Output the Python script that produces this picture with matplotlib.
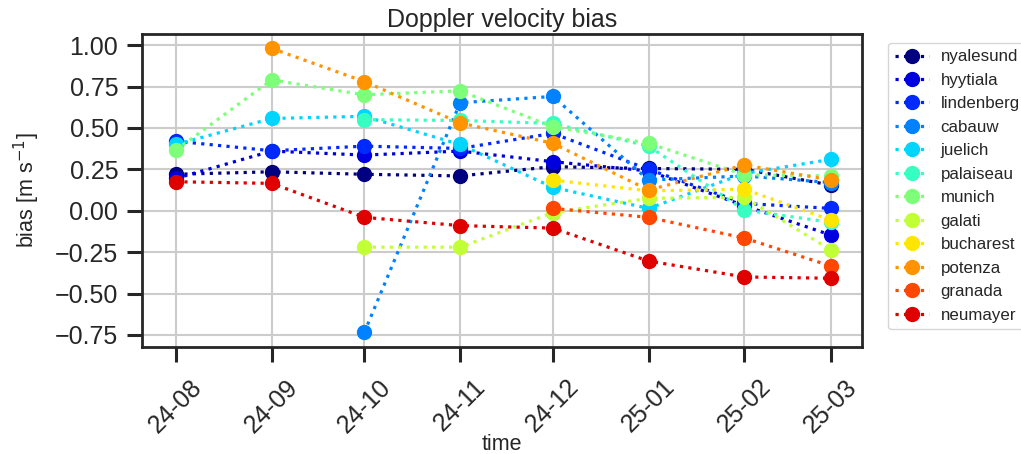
import numpy as np
import matplotlib
matplotlib.use('Agg')
import matplotlib.pyplot as plt
import matplotlib.dates as mdates

# ── data ───────────────────────────────────────────────────────────────────
months = np.array(['2024-08-01', '2024-09-01', '2024-10-01', '2024-11-01',
                   '2024-12-01', '2025-01-01', '2025-02-01', '2025-03-01'],
                  dtype='datetime64[D]')
nan = np.nan

stations = ['nyalesund', 'hyytiala', 'lindenberg', 'cabauw', 'juelich',
            'palaiseau', 'munich', 'galati', 'bucharest', 'potenza',
            'granada', 'neumayer']

nyalesund  = [0.22, 0.235, 0.22, 0.21, 0.266, 0.255, 0.25, 0.155]
hyytiala   = [0.195, 0.36, 0.336, 0.36, 0.296, 0.24, 0.03, -0.147]
lindenberg = [0.42, 0.362, 0.39, 0.376, 0.467, 0.25, 0.044, 0.014]
cabauw     = [nan, nan, -0.735, 0.652, 0.69, 0.185, 0.21, 0.17]
juelich    = [0.40, 0.557, 0.57, 0.40, 0.141, 0.014, 0.225, 0.31]
palaiseau  = [nan, nan, 0.55, 0.545, 0.527, 0.39, 0.004, -0.07]
munich     = [0.366, 0.79, 0.70, 0.724, 0.507, 0.407, 0.217, 0.21]
galati     = [nan, nan, -0.22, -0.22, -0.012, 0.075, 0.081, -0.237]
bucharest  = [nan, nan, nan, nan, 0.185, 0.12, 0.13, -0.056]
potenza    = [nan, 0.98, 0.78, 0.53, 0.407, 0.125, 0.276, 0.185]
granada    = [nan, nan, nan, nan, 0.014, -0.04, -0.165, -0.334]
neumayer   = [0.175, 0.165, -0.04, -0.09, -0.105, -0.304, -0.40, -0.408]

series = [nyalesund, hyytiala, lindenberg, cabauw, juelich, palaiseau,
          munich, galati, bucharest, potenza, granada, neumayer]

# ── style ──────────────────────────────────────────────────────────────────
plt.rcParams['font.family'] = ['Liberation Sans', 'DejaVu Sans']
plt.rcParams['text.color'] = '#262626'
plt.rcParams['axes.labelcolor'] = '#262626'
plt.rcParams['xtick.color'] = '#262626'
plt.rcParams['ytick.color'] = '#262626'

colors = plt.cm.jet(np.linspace(0, 1, 13))[:12]

fig = plt.figure(figsize=(10.21, 4.54), dpi=100)
ax = fig.add_axes([0.139, 0.2357, 0.705, 0.689])

for name, vals, col in zip(stations, series, colors):
    ax.plot(months, np.array(vals, dtype=float), ls=':', lw=2.3, color=col,
            marker='o', ms=10, label=name)

ax.grid(True, color='#cccccc', lw=1.5)
ax.set_axisbelow(True)
for sp in ax.spines.values():
    sp.set_edgecolor('#262626'); sp.set_linewidth(2.0)

ax.xaxis.set_major_locator(mdates.MonthLocator())
ax.xaxis.set_major_formatter(mdates.DateFormatter('%y-%m'))
ax.set_xlim(np.datetime64('2024-07-21'), np.datetime64('2025-03-11'))
ax.set_ylim(-0.823, 1.066)
ax.set_yticks([-0.75, -0.5, -0.25, 0, 0.25, 0.5, 0.75, 1.0])

ax.tick_params(axis='both', which='major', length=11, width=2.2,
               labelsize=18, pad=6)
ax.tick_params(axis='x', pad=9)
plt.setp(ax.get_xticklabels(), rotation=45, ha='center')

ax.set_title('Doppler velocity bias', fontsize=18, pad=5)
ax.set_xlabel('time', fontsize=15.5, labelpad=-2)
ax.set_ylabel(r'bias [m s$^{-1}$]', fontsize=15.5, labelpad=9)

ax.legend(loc='upper left', bbox_to_anchor=(1.025, 1.0), fontsize=12.2,
          labelspacing=0.5, handletextpad=0.7, frameon=True,
          edgecolor='#cccccc')

fig.savefig('out.png', dpi=100)
